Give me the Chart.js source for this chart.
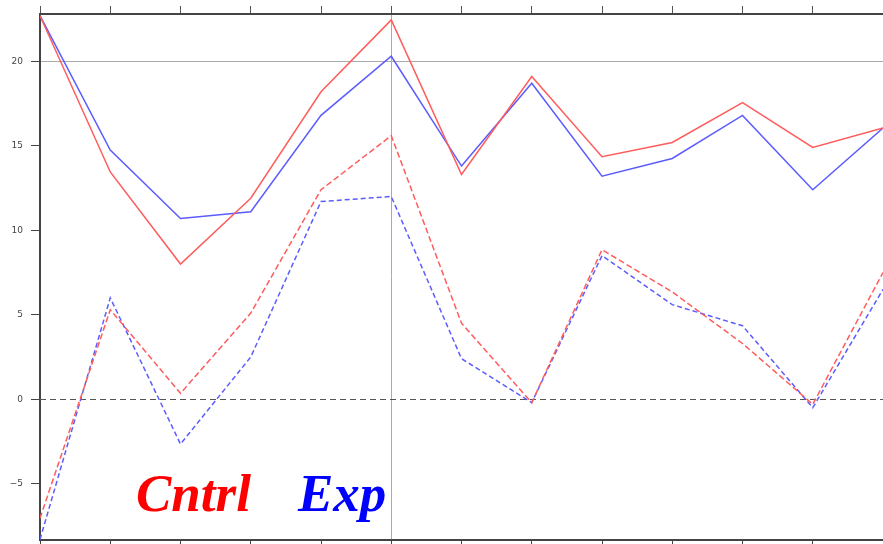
<!DOCTYPE html>
<html>
<head>
<meta charset="utf-8">
<script src="https://cdn.jsdelivr.net/npm/chart.js@4"></script>
<style>
  body { margin: 0; background: #fff; }
  #wrap { position: relative; width: 883px; height: 544px; }
  .tag { position: absolute; font-family: "Liberation Serif", "DejaVu Serif", serif;
         font-weight: bold; font-style: italic; font-size: 53px; line-height: 1; }
</style>
</head>
<body>
<div id="wrap">
  <canvas id="chart" width="883" height="544"></canvas>
  <div class="tag" style="left:136px; top:467px; color:#ff0000;">Cntrl</div>
  <div class="tag" style="left:298px; top:467px; color:#0000ff;">Exp</div>
</div>
<script>
// точки по оси X (0..12) и значения серий
const steps = [0, 1, 2, 3, 4, 5, 6, 7, 8, 9, 10, 11, 12];
const cntrlSolid = [22.7, 13.45, 8.0, 11.9, 18.2, 22.45, 13.3, 19.1, 14.35, 15.2, 17.55, 14.9, 16.05];
const expSolid   = [22.7, 14.75, 10.7, 11.1, 16.8, 20.3, 13.8, 18.7, 13.2, 14.25, 16.8, 12.4, 16.05];
const cntrlDash  = [-7.05, 5.3, 0.35, 5.1, 12.4, 15.6, 4.5, -0.2, 8.85, 6.35, 3.3, -0.3, 7.5];
const expDash    = [-8.3, 6.0, -2.65, 2.5, 11.7, 12.0, 2.4, -0.2, 8.5, 5.6, 4.35, -0.5, 6.5];
const yTicks = [-5, 0, 5, 10, 15, 20];

const RED = '#ff5c5c';
const BLUE = '#5c5cff';

const toPoints = vals => vals.map((v, i) => ({ x: steps[i], y: v }));

function line(vals, color, dash) {
    return {
        data: toPoints(vals),
        borderColor: color,
        borderWidth: 1.5,
        borderDash: dash || [],
        pointRadius: 0,
        tension: 0,
        fill: false
    };
}

// пунктир по нулю
const zeroLine = {
    id: 'zeroLine',
    beforeDatasetsDraw(chart) {
        const { ctx, chartArea, scales } = chart;
        const y = Math.round(scales.y.getPixelForValue(0)) + 0.5;
        ctx.save();
        ctx.strokeStyle = '#555';
        ctx.lineWidth = 1;
        ctx.setLineDash([6, 4]);
        ctx.beginPath();
        ctx.moveTo(chartArea.left, y);
        ctx.lineTo(chartArea.right, y);
        ctx.stroke();
        ctx.restore();
    }
};

new Chart(document.getElementById('chart'), {
    type: 'line',
    data: {
        datasets: [
            line(cntrlSolid, RED),
            line(expSolid, BLUE),
            line(cntrlDash, RED, [6, 3]),
            line(expDash, BLUE, [5, 3])
        ]
    },
    options: {
        responsive: false,
        animation: false,
        layout: { padding: 0 },
        plugins: { legend: { display: false }, tooltip: { enabled: false } },
        scales: {
            x: {
                type: 'linear', position: 'bottom', min: 0, max: 12,
                afterBuildTicks: s => { s.ticks = steps.map(v => ({ value: v })); },
                afterFit: s => { s.height = 4; },
                ticks: { display: false },
                grid: {
                    color: c => c.tick && c.tick.value === 5 ? '#aaa' : 'rgba(0,0,0,0)',
                    tickColor: '#444', tickLength: 4, lineWidth: 1
                },
                border: { color: '#444', width: 2 }
            },
            x2: {
                type: 'linear', position: 'top', min: 0, max: 12,
                afterBuildTicks: s => { s.ticks = steps.map(v => ({ value: v })); },
                afterFit: s => { s.height = 14; },
                ticks: { display: false },
                grid: { drawOnChartArea: false, tickColor: '#555', tickLength: 8 },
                border: { color: '#444', width: 2 }
            },
            y: {
                min: -8.33, max: 22.8,
                afterBuildTicks: s => { s.ticks = yTicks.map(v => ({ value: v })); },
                afterFit: s => {
                    s.width = 40;
                    s.paddingTop = 0;
                    s.paddingBottom = 0;
                },
                ticks: {
                    color: '#444', padding: 8,
                    font: { family: 'DejaVu Sans', size: 9 },
                    callback: v => v < 0 ? '\u2212' + Math.abs(v) : String(v)
                },
                grid: {
                    color: c => c.tick && c.tick.value === 20 ? '#aaa' : 'rgba(0,0,0,0)',
                    tickColor: '#444', tickLength: 9
                },
                border: { color: '#444', width: 2 }
            }
        }
    },
    plugins: [zeroLine]
});
</script>
</body>
</html>
